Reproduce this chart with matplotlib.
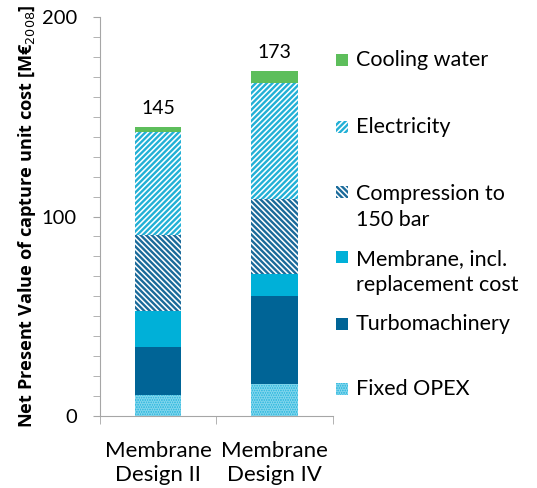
import matplotlib
matplotlib.use("Agg")
import matplotlib.pyplot as plt
from matplotlib.patches import Rectangle

# data (M EUR 2008), stacked bottom to top
designs = ["Membrane\nDesign II", "Membrane\nDesign IV"]
fixed_opex = [10.5, 16]
turbomachinery = [24, 44]
membrane = [18, 11]
compression = [38, 38]
electricity = [52, 58]
cooling_water = [2.5, 6]
totals = [145, 173]

series = [
    ("Fixed OPEX", fixed_opex),
    ("Turbomachinery", turbomachinery),
    ("Membrane, incl.\nreplacement cost", membrane),
    ("Compression to\n150 bar", compression),
    ("Electricity", electricity),
    ("Cooling water", cooling_water),
]

# styles: (facecolor, hatch colour, hatch)
styles = {
    "Fixed OPEX": ("#2FB9DE", "#7ED4EC", "......."),
    "Turbomachinery": ("#006496", None, None),
    "Membrane, incl.\nreplacement cost": ("#00B0D8", None, None),
    "Compression to\n150 bar": ("white", "#1A6A9A", "\\\\\\\\\\\\"),
    "Electricity": ("white", "#22B0D6", "//////"),
    "Cooling water": ("#5DBE5B", None, None),
}

plt.rcParams["font.family"] = ["Lato", "DejaVu Sans"]
plt.rcParams["hatch.linewidth"] = 1.7

fig = plt.figure(figsize=(5.37, 4.88), dpi=100)
ax = fig.add_axes([0.186, 0.1475, 0.434, 0.8175])

x = [0, 1]
bottom = [0, 0]
for name, vals in series:
    fc, hc, hatch = styles[name]
    if hatch:
        ax.bar(x, vals, 0.4, bottom=bottom, facecolor=fc, edgecolor=hc,
               hatch=hatch, linewidth=0)
    else:
        ax.bar(x, vals, 0.4, bottom=bottom, color=fc, linewidth=0)
    bottom = [b + v for b, v in zip(bottom, vals)]

for xi, t in zip(x, totals):
    ax.text(xi, t + 5, str(t), ha="center", va="bottom", fontsize=14)

ax.set_xlim(-0.5, 1.5)
ax.set_ylim(0, 200)
ax.set_yticks([0, 100, 200])
ax.set_yticks(range(0, 201, 10), minor=True)
ax.set_xticks(x, designs)
ax.set_xticks([-0.5, 0.5, 1.5], minor=True)
ax.tick_params(axis="x", which="major", length=0, labelsize=16, pad=18)
ax.tick_params(axis="x", which="minor", length=6, color="#A6A6A6")
ax.tick_params(axis="y", which="both", length=5, color="#A6A6A6",
               labelsize=14.5, pad=11.5)
for lbl in ax.get_xticklabels():
    lbl.set_linespacing(1.25)

for s in ["top", "right"]:
    ax.spines[s].set_visible(False)
for s in ["left", "bottom"]:
    ax.spines[s].set_color("#A6A6A6")

ax.set_ylabel("Net Present Value of capture unit cost [M€$_{2008}$]",
              fontsize=13.1, fontweight="bold",
              family=["Open Sans", "DejaVu Sans"])
ax.yaxis.set_label_coords(-0.265, 0.5)

# legend drawn by hand to match the uneven spacing
legend_y = {
    "Cooling water": 60,
    "Electricity": 127,
    "Compression to\n150 bar": 207,
    "Membrane, incl.\nreplacement cost": 272,
    "Turbomachinery": 324,
    "Fixed OPEX": 389,
}
W, H = 537.0, 488.0
for name, _ in reversed(series):
    fc, hc, hatch = styles[name]
    yc = legend_y[name]
    first_line = yc if "\n" not in name else yc - 15
    box = Rectangle((336 / W, 1 - (first_line + 6) / H), 12 / W, 12 / H,
                    transform=fig.transFigure, facecolor=fc,
                    edgecolor=hc if hc else fc, hatch=hatch, linewidth=0)
    fig.patches.append(box)
    fig.text(356 / W, 1 - yc / H, name, fontsize=15.5, va="center", ha="left",
             linespacing=1.4)

fig.savefig("out.png", dpi=100)
